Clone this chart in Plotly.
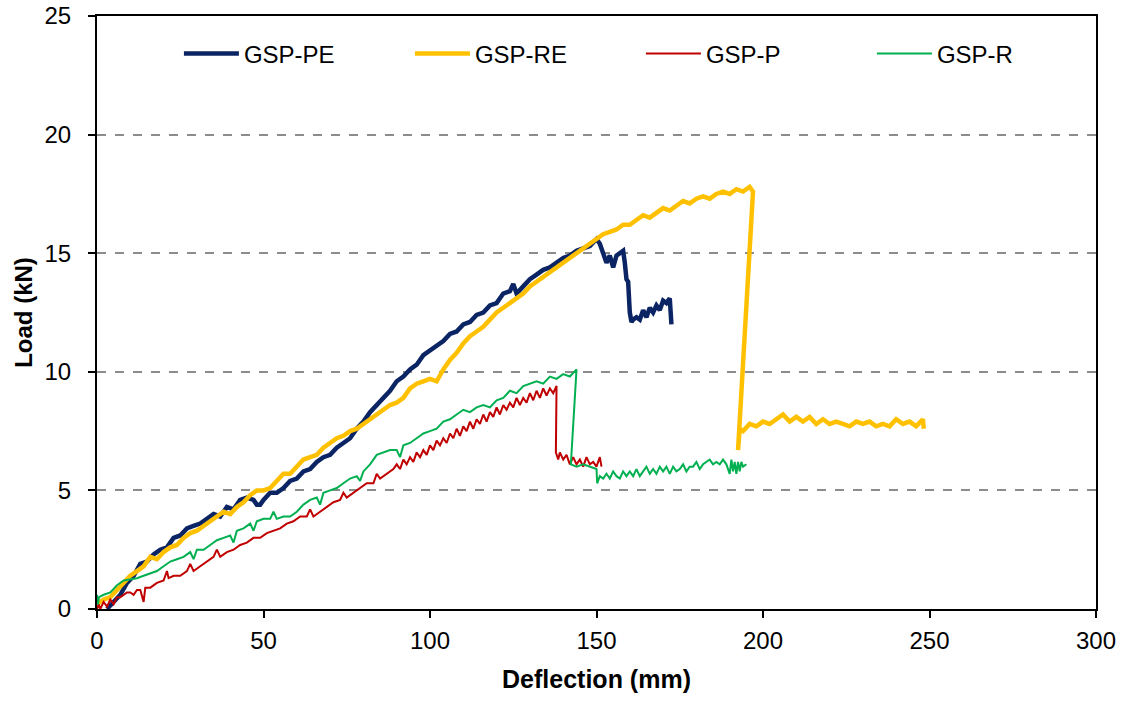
import plotly.graph_objects as go

# ---------------- data ----------------
pe_x = [3, 5, 7, 9, 11, 13, 15, 17, 19, 21, 23, 25, 27, 29, 31, 33, 35, 37, 39, 41, 43, 45, 47, 48, 49, 50,
        52, 54, 56, 58, 60, 62, 64, 66, 68, 70, 72, 74, 76, 78, 80, 82, 84, 86, 88, 90, 92, 94, 96, 98, 100,
        102, 104, 106, 108, 110, 112, 114, 116, 118, 120, 122, 124, 125, 126, 128, 130, 132, 134, 136, 138,
        140, 142, 144, 146, 148, 150, 151, 152, 153, 154, 155, 156, 157, 158, 158.5, 159, 159.5, 160, 160.5,
        161, 162, 163, 164, 165, 166, 167, 168, 169, 170, 171, 172, 172.5]
pe_y = [0.0, 0.3, 0.6, 1.1, 1.4, 1.9, 2.0, 2.3, 2.5, 2.6, 3.0, 3.1, 3.4, 3.5, 3.6, 3.8, 4.0, 3.9, 4.3, 4.2, 4.6,
        4.7, 4.6, 4.4, 4.4, 4.6, 4.9, 4.9, 5.1, 5.4, 5.5, 5.8, 5.9, 6.2, 6.4, 6.5, 6.8, 7.0, 7.2, 7.6, 7.9,
        8.3, 8.6, 8.9, 9.2, 9.6, 9.8, 10.1, 10.3, 10.7, 10.9, 11.1, 11.3, 11.6, 11.7, 12.0, 12.1, 12.4, 12.5,
        12.8, 12.9, 13.3, 13.4, 13.7, 13.3, 13.6, 13.9, 14.1, 14.3, 14.4, 14.6, 14.8, 14.9, 15.1, 15.2, 15.3,
        15.6, 15.4, 15.0, 14.6, 14.9, 14.4, 14.9, 15.0, 15.1, 14.6, 13.9, 13.8, 12.5, 12.1, 12.2, 12.3, 12.2,
        12.6, 12.3, 12.7, 12.5, 12.8, 12.6, 13.0, 12.9, 13.1, 12.0]

re_x = [0, 2, 4, 6, 8, 10, 12, 14, 16, 18, 20, 22, 24, 26, 28, 30, 32, 34, 36, 38, 40, 42, 44, 46, 48, 50,
        52, 54, 56, 58, 60, 62, 64, 66, 68, 70, 72, 74, 76, 78, 80, 82, 84, 86, 88, 90, 92, 94, 96, 98, 100,
        102, 104, 106, 108, 110, 112, 114, 116, 118, 120, 122, 124, 126, 128, 130, 132, 134, 136, 138, 140,
        142, 144, 146, 148, 150, 152, 154, 156, 158, 160, 162, 164, 166, 168, 170, 172, 174, 176, 178, 180,
        182, 184, 186, 188, 190, 192, 194, 196, 197, 192.5, 193, 194, 196, 198, 200, 202, 204, 206, 208,
        210, 212, 214, 216, 218, 220, 222, 224, 226, 228, 230, 232, 234, 236, 238, 240, 242, 244, 246, 248,
        248.3]
re_y = [0.2, 0.4, 0.5, 0.8, 1.1, 1.4, 1.6, 1.8, 2.2, 2.1, 2.4, 2.6, 2.7, 3.0, 3.2, 3.3, 3.5, 3.7, 3.9, 4.1,
        4.0, 4.3, 4.5, 4.8, 5.0, 5.0, 5.1, 5.4, 5.7, 5.7, 6.0, 6.3, 6.4, 6.5, 6.8, 7.0, 7.2, 7.3, 7.5, 7.6,
        7.8, 8.0, 8.2, 8.4, 8.6, 8.7, 8.9, 9.3, 9.5, 9.6, 9.7, 9.6, 10.1, 10.5, 10.8, 11.2, 11.5, 11.7, 11.9,
        12.2, 12.5, 12.7, 12.9, 13.1, 13.3, 13.6, 13.8, 14.0, 14.2, 14.4, 14.6, 14.8, 15.0, 15.2, 15.4, 15.6,
        15.8, 15.9, 16.0, 16.2, 16.2, 16.4, 16.6, 16.5, 16.7, 16.9, 16.8, 17.0, 17.2, 17.1, 17.3, 17.4, 17.3,
        17.5, 17.6, 17.5, 17.7, 17.6, 17.8, 17.6, 6.7, 7.6, 7.5, 7.8, 7.7, 7.9, 7.8, 8.0, 8.2, 7.9, 8.1, 7.9,
        8.1, 7.8, 8.0, 7.8, 7.9, 7.8, 7.7, 7.9, 7.8, 7.9, 7.7, 7.8, 7.7, 8.0, 7.8, 7.9, 7.7, 8.0, 7.6]

p_x = [0, 0.5, 1, 2, 3, 4, 5, 6, 7, 8, 9, 10, 11, 12, 13, 14, 14.5, 16, 18, 20, 21, 21.5, 23, 25, 27, 28, 29,
       31, 33, 35, 36, 37, 39, 41, 43, 45, 47, 49, 51, 53, 55, 57, 59, 61, 63, 64, 65, 67, 69, 71, 73, 74, 75,
       77, 79, 81, 83, 84, 85, 87, 89, 90, 91, 92, 93, 94, 95, 96, 97, 98, 99, 100, 101, 102, 103, 104, 105,
       106, 107, 108, 109, 110, 111, 112, 113, 114, 115, 116, 117, 118, 119, 120, 121, 122, 123, 124, 125,
       126, 127, 128, 129, 130, 131, 132, 133, 134, 135, 136, 137, 138, 137.8, 138.5, 139, 140, 141, 142,
       143, 144, 145, 146, 147, 148, 149, 150, 151, 151.5]
p_y = [0.0, 0.2, 0.0, 0.3, 0.1, 0.4, 0.2, 0.5, 0.5, 0.6, 0.7, 0.7, 0.6, 0.8, 0.8, 0.3, 0.9, 0.9, 1.1, 1.2, 1.6,
       1.3, 1.4, 1.4, 1.6, 1.9, 1.6, 1.8, 2.0, 2.2, 2.5, 2.2, 2.4, 2.5, 2.7, 2.8, 3.0, 3.0, 3.2, 3.3, 3.4, 3.6,
       3.7, 3.9, 3.9, 4.2, 3.9, 4.1, 4.3, 4.5, 4.6, 4.9, 4.7, 4.9, 5.1, 5.3, 5.3, 5.7, 5.5, 5.7, 5.9, 6.1, 5.9,
       6.3, 6.1, 6.4, 6.2, 6.6, 6.4, 6.7, 6.5, 6.9, 6.7, 7.1, 6.9, 7.2, 7.0, 7.4, 7.2, 7.6, 7.3, 7.7, 7.5, 7.9,
       7.6, 8.0, 7.8, 8.2, 7.9, 8.3, 8.1, 8.5, 8.2, 8.6, 8.4, 8.7, 8.5, 8.9, 8.6, 8.9, 8.7, 9.1, 8.8, 9.2, 8.9,
       9.3, 9.0, 9.3, 9.1, 9.4, 6.6, 6.3, 6.6, 6.3, 6.5, 6.1, 6.4, 6.1, 6.3, 6.0, 6.4, 6.1, 6.2, 6.0, 6.4, 6.0]

r_x = [0, 0.3, 0.6, 2, 4, 6, 8, 10, 12, 14, 16, 18, 20, 22, 24, 26, 28, 29, 30, 32, 34, 36, 38, 40, 41, 42,
       44, 46, 47, 48, 50, 52, 53, 54, 56, 58, 60, 62, 64, 66, 67, 68, 70, 72, 74, 76, 78, 79, 80, 82, 84, 86,
       88, 90, 91, 92, 94, 96, 98, 100, 102, 104, 106, 108, 110, 112, 114, 116, 118, 120, 122, 124, 126, 128,
       130, 132, 134, 136, 138, 140, 142, 144, 142.3, 144, 146, 148, 150, 150.2, 151, 152, 153, 154, 155,
       156, 157, 158, 159, 160, 161, 162, 163, 164, 165, 166, 167, 168, 169, 170, 171, 172, 173, 174, 175,
       176, 177, 178, 179, 180, 181, 182, 183, 184, 185, 186, 187, 188, 189, 190, 190.5, 191, 191.5, 192,
       192.5, 193, 193.5, 194, 195]
r_y = [0.6, 0.2, 0.5, 0.6, 0.7, 1.0, 1.2, 1.25, 1.3, 1.4, 1.5, 1.6, 1.8, 2.0, 2.1, 2.2, 2.4, 2.1, 2.5, 2.5,
       2.7, 2.9, 3.0, 3.1, 2.8, 3.3, 3.4, 3.6, 3.3, 3.7, 3.8, 3.8, 4.1, 3.8, 3.9, 3.9, 4.1, 4.4, 4.6, 4.7, 4.4,
       4.9, 5.0, 5.1, 5.3, 5.5, 5.6, 5.4, 5.8, 6.1, 6.5, 6.6, 6.7, 6.7, 6.4, 6.9, 7.0, 7.2, 7.4, 7.5, 7.6, 7.9,
       8.0, 8.2, 8.4, 8.3, 8.5, 8.6, 8.5, 8.8, 8.9, 9.2, 9.1, 9.4, 9.5, 9.6, 9.5, 9.8, 9.7, 9.9, 9.8, 10.1,
       6.1, 6.0, 6.1, 6.0, 5.9, 5.3, 5.6, 5.5, 5.7, 5.5, 5.8, 5.6, 5.5, 5.8, 5.6, 5.8, 5.6, 5.9, 5.6, 5.8,
       6.0, 5.7, 5.9, 5.7, 6.0, 5.8, 6.0, 5.7, 6.0, 5.8, 5.9, 6.1, 5.8, 6.0, 6.0, 6.2, 5.9, 6.1, 6.2, 6.3,
       6.1, 6.2, 6.1, 6.3, 6.1, 5.7, 6.3, 5.8, 6.2, 5.7, 6.2, 5.8, 6.2, 6.0, 6.1]

series_names = ["GSP-PE", "GSP-RE", "GSP-P", "GSP-R"]
x_ticks = [0, 50, 100, 150, 200, 250, 300]
y_ticks = [0, 5, 10, 15, 20, 25]

# ---------------- figure ----------------
FONT = "Arial, Liberation Sans, sans-serif"
styles = [("#0B2463", 4.5), ("#FFC000", 4.5), ("#C00000", 2), ("#00B050", 2)]
data = [(pe_x, pe_y), (re_x, re_y), (p_x, p_y), (r_x, r_y)]

fig = go.Figure()
for name, (xs, ys), (col, w) in zip(series_names, data, styles):
    fig.add_trace(go.Scatter(x=xs, y=ys, mode="lines", name=name,
                             line=dict(color=col, width=w)))

fig.update_layout(
    width=1132, height=704,
    margin=dict(l=97, r=36, t=16, b=95),
    paper_bgcolor="white", plot_bgcolor="white",
    font=dict(family=FONT, size=24, color="black"),
    showlegend=True,
    legend=dict(orientation="h", x=0.082, y=0.936, xanchor="left", yanchor="middle",
                font=dict(family=FONT, size=24, color="black"),
                entrywidth=161, entrywidthmode="pixels", itemwidth=55,
                bgcolor="rgba(0,0,0,0)", traceorder="normal"),
)
fig.update_xaxes(range=[0, 300], tickvals=x_ticks, ticks="outside", ticklen=7, tickwidth=1.5,
                 tickcolor="black", showline=True, linecolor="black", linewidth=2, mirror=True,
                 showgrid=False, zeroline=False, ticklabelstandoff=2, automargin=False,
                 title=dict(text="<b>Deflection (mm)</b>", font=dict(size=25), standoff=18),
                 tickfont=dict(size=24))
fig.update_yaxes(range=[0, 25], tickvals=y_ticks, ticks="outside", ticklen=7, tickwidth=1.5,
                 tickcolor="black", showline=True, linecolor="black", linewidth=2, mirror=True,
                 showgrid=True, gridcolor="#8C8C8C", griddash="dash", gridwidth=1.5,
                 zeroline=False, ticklabelstandoff=12, automargin=False,
                 title=dict(text="<b>Load (kN)</b>", font=dict(size=24), standoff=5),
                 tickfont=dict(size=24))

fig.write_html("out.html")
